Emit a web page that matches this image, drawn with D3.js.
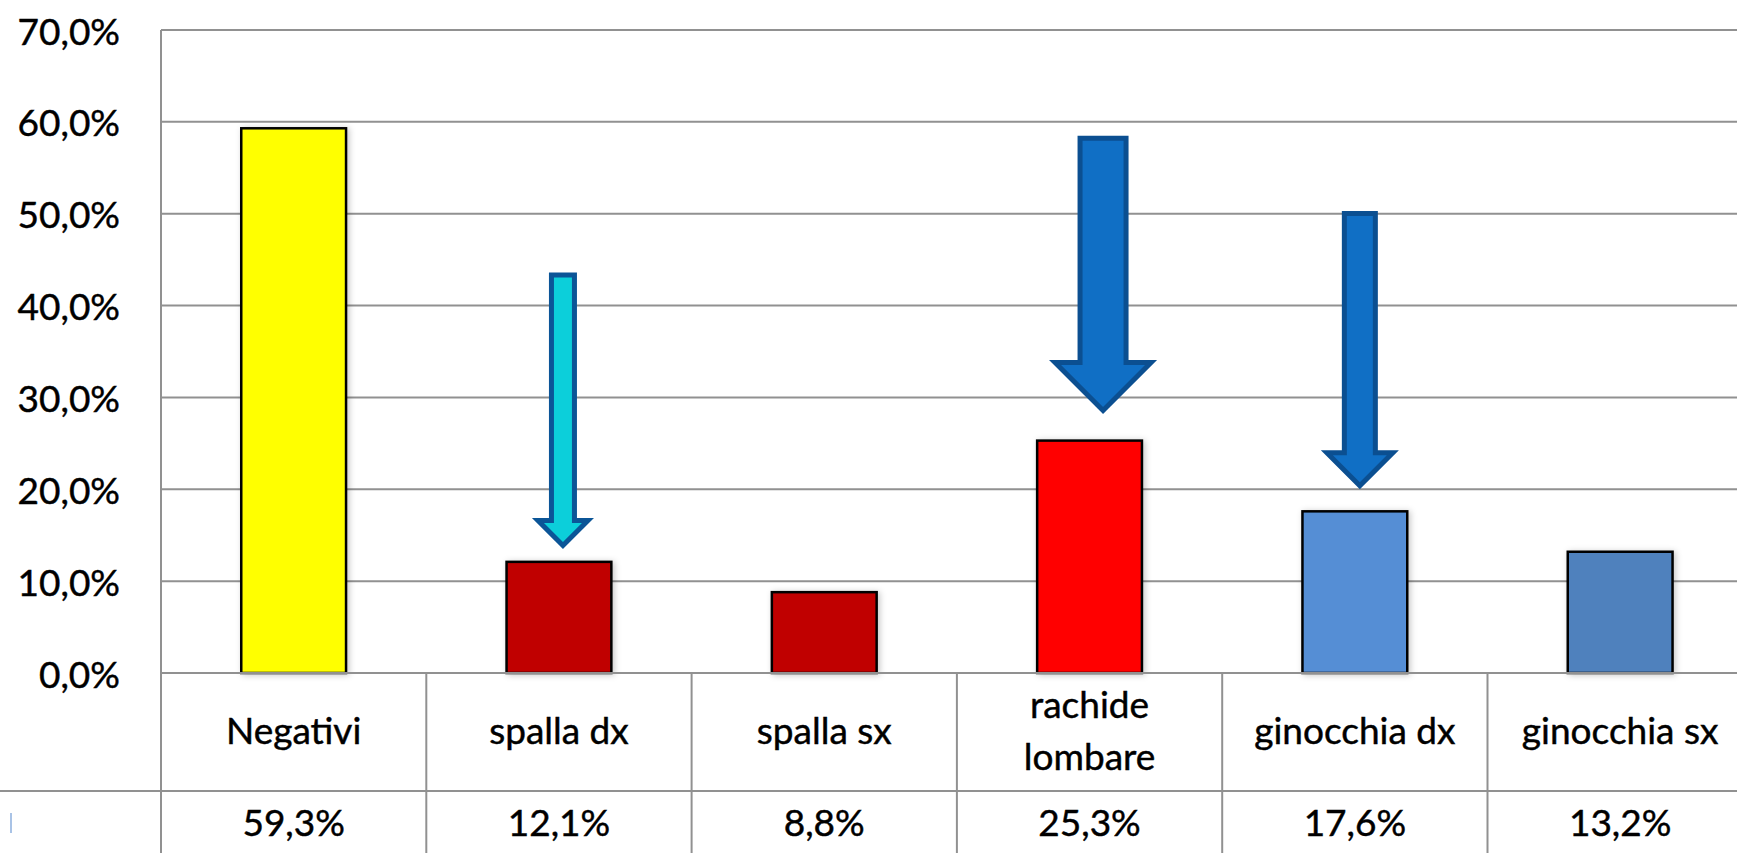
<!DOCTYPE html>
<html>
<head>
<meta charset="utf-8">
<script src="https://cdn.jsdelivr.net/npm/d3@7"></script>
<style>
  html, body { margin: 0; padding: 0; background: #fff; }
  svg { display: block; }
  text { font-family: Lato, "Open Sans", sans-serif; fill: #000; stroke: #000; stroke-width: 0.45px; }
</style>
</head>
<body>
<svg id="chart" width="1737" height="853"></svg>
<script>
// Categories and their shares (fraction of respondents)
const categories = ["Negativi", "spalla dx", "spalla sx", "rachide lombare", "ginocchia dx", "ginocchia sx"];
const labelLines = [["Negativi"], ["spalla dx"], ["spalla sx"], ["rachide", "lombare"], ["ginocchia dx"], ["ginocchia sx"]];
const values = [0.593, 0.121, 0.088, 0.253, 0.176, 0.132];
const barColors = ["#FFFF00", "#C00000", "#C00000", "#FF0000", "#558ED5", "#4F81BD"];
const yTicks = [0, 0.1, 0.2, 0.3, 0.4, 0.5, 0.6, 0.7];

// Highlight arrows: category, start value and tip value
const arrowCats = ["spalla dx", "rachide lombare", "ginocchia dx"];
const arrowFrom = [0.436, 0.585, 0.503];
const arrowTo = [0.135, 0.282, 0.200];

(function draw() {
  const W = 1737, H = 853;
  const plotLeft = 161, plotTop = 30, base = 673, step = 265.3;
  const rowLine = 791;
  const fontSize = "37px";

  const svg = d3.select("#chart");
  const it = d3.formatLocale({ decimal: ",", thousands: ".", grouping: [3], currency: ["€", ""] });
  const pct = it.format(".1%");

  const x = d3.scaleBand().domain(categories).range([plotLeft, plotLeft + step * categories.length]).padding(0);
  const y = d3.scaleLinear().domain([0, 0.7]).range([base, plotTop]);

  const defs = svg.append("defs");
  const sh = defs.append("filter").attr("id", "shadow").attr("x", "-20%").attr("y", "-20%").attr("width", "140%").attr("height", "140%");
  sh.append("feDropShadow").attr("dx", 2).attr("dy", 1).attr("stdDeviation", 3)
    .attr("flood-color", "#000").attr("flood-opacity", 0.22);

  const gridColor = "#919191";

  // Horizontal gridlines
  svg.append("g").selectAll("line").data(yTicks).join("line")
    .attr("x1", plotLeft).attr("x2", W)
    .attr("y1", d => y(d)).attr("y2", d => y(d))
    .attr("stroke", gridColor).attr("stroke-width", 2);

  // Vertical axis line running through the data table
  svg.append("line").attr("x1", plotLeft).attr("x2", plotLeft).attr("y1", y(0.7)).attr("y2", H)
    .attr("stroke", gridColor).attr("stroke-width", 2);

  // Table separators
  svg.append("line").attr("x1", 0).attr("x2", W).attr("y1", rowLine).attr("y2", rowLine)
    .attr("stroke", gridColor).attr("stroke-width", 2);
  svg.append("g").selectAll("line").data(categories.slice(1)).join("line")
    .attr("x1", d => x(d)).attr("x2", d => x(d))
    .attr("y1", base).attr("y2", H)
    .attr("stroke", gridColor).attr("stroke-width", 2);

  // Y tick labels
  svg.append("g").selectAll("text").data(yTicks).join("text")
    .attr("x", 120).attr("y", d => y(d))
    .attr("text-anchor", "end").attr("dominant-baseline", "central")
    .style("font-size", fontSize)
    .text(d => pct(d));

  // Bars
  const bw = x.bandwidth() * 0.395;
  svg.append("g").selectAll("rect").data(categories).join("rect")
    .attr("x", d => x(d) + x.bandwidth() / 2 - bw / 2)
    .attr("y", (d, i) => y(values[i]))
    .attr("width", bw)
    .attr("height", (d, i) => y(0) - y(values[i]))
    .attr("fill", (d, i) => barColors[i])
    .attr("stroke", "#000").attr("stroke-width", 2.5)
    .attr("filter", "url(#shadow)");

  // Baseline over the bar bottoms
  svg.append("line").attr("x1", plotLeft).attr("x2", W).attr("y1", base).attr("y2", base)
    .attr("stroke", gridColor).attr("stroke-width", 2);

  // Category labels in the table
  const catG = svg.append("g");
  categories.forEach((c, i) => {
    const lines = labelLines[i];
    const lh = 51.7;
    const b0 = lines.length === 1 ? 744 : 718.3;
    lines.forEach((ln, j) => {
      catG.append("text")
        .attr("x", x(c) + x.bandwidth() / 2)
        .attr("y", b0 + j * lh)
        .attr("text-anchor", "middle")
        .style("font-size", fontSize)
        .text(ln);
    });
  });

  // Value row
  svg.append("g").selectAll("text").data(categories).join("text")
    .attr("x", d => x(d) + x.bandwidth() / 2)
    .attr("y", 836)
    .attr("text-anchor", "middle")
    .style("font-size", fontSize)
    .text((d, i) => pct(values[i]));

  // Legend key of the value row
  svg.append("rect").attr("x", 10).attr("y", 813).attr("width", 2).attr("height", 20).attr("fill", "#A9C3E6");

  // Arrows pointing to the highlighted bars
  const arrowStyle = [
    { dx: 4, w: 23, fill: "#0CCFDA", stroke: "#0B5597" },
    { dx: 13.5, w: 46, fill: "#106FC5", stroke: "#0B4F91" },
    { dx: 5, w: 31, fill: "#106FC5", stroke: "#0B4F91" }
  ];
  const arrowG = svg.append("g");
  arrowCats.forEach((c, i) => {
    const s = arrowStyle[i];
    const cx = x(c) + x.bandwidth() / 2 + s.dx;
    const y0 = y(arrowFrom[i]) + 2.5;
    const yt = y(arrowTo[i]) - 3.5;
    const hw = s.w / 2;
    const head = s.w + 2;
    const yh = yt - head;
    const p = d3.path();
    p.moveTo(cx - hw, y0);
    p.lineTo(cx + hw, y0);
    p.lineTo(cx + hw, yh);
    p.lineTo(cx + hw + head * 0.5 + 1, yh);
    p.lineTo(cx, yt);
    p.lineTo(cx - hw - head * 0.5 - 1, yh);
    p.lineTo(cx - hw, yh);
    p.closePath();
    arrowG.append("path").attr("d", p.toString())
      .attr("fill", s.fill).attr("stroke", s.stroke).attr("stroke-width", 5)
      .attr("stroke-linejoin", "miter");
  });
})();
</script>
</body>
</html>
